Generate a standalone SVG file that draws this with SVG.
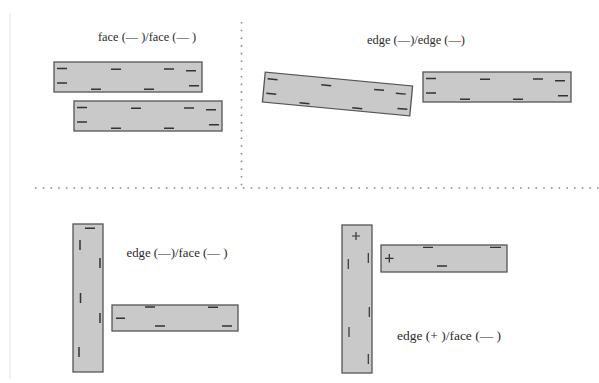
<svg xmlns="http://www.w3.org/2000/svg" xmlns:xlink="http://www.w3.org/1999/xlink" width="599" height="383" viewBox="0 0 599 383">
<style>
.bar{fill:#c9c9c9;stroke:#555;stroke-width:1.3}
.mk{stroke:#333;stroke-width:1.5;fill:none}
.lbl{font-family:"Liberation Serif","Times New Roman",serif;font-size:12.5px;fill:#2a2a2a;text-anchor:middle}
.dot{stroke:#8a8a8a;stroke-width:1.6;stroke-dasharray:1.6 6.1;fill:none}
</style>
<defs>
<g id="bar148">
<rect class="bar" x="0" y="0" width="148" height="30"/>
<path class="mk" d="M3,6.5h10M3,21h10M37,27.3h10M57,7.3h10M90,27.3h10M110,7h10M132,8.7h10M135,23.7h10"/>
</g>
</defs>
<rect width="599" height="383" fill="#fff"/>
<line x1="10" y1="14" x2="10" y2="379" stroke="#ececec" stroke-width="1.5"/>
<g id="connectors">
<line class="dot" x1="241.5" y1="22" x2="241.5" y2="188"/>
<line class="dot" x1="35" y1="188" x2="599" y2="188"/>
</g>
<g id="label-face-face"><text class="lbl" x="147" y="41" textLength="98" lengthAdjust="spacingAndGlyphs">face (— )/face (— )</text></g>
<g id="bar-tl1"><use xlink:href="#bar148" x="54" y="62"/></g>
<g id="bar-tl2"><use xlink:href="#bar148" x="74" y="101"/></g>
<g id="label-edge-edge"><text class="lbl" x="416" y="44" textLength="98" lengthAdjust="spacingAndGlyphs">edge (—)/edge (—)</text></g>
<g id="bar-tr-tilt" transform="translate(337.5,94) rotate(5.4)"><use xlink:href="#bar148" x="-74" y="-15"/></g>
<g id="bar-tr"><use xlink:href="#bar148" x="423" y="72"/></g>
<g id="bar-bl-vert">
<rect class="bar" x="73" y="224" width="30" height="148"/>
<path class="mk" d="M85,228.3h10M80,240v10M100,258v10M80.5,293v10M100,313v10M79,347v10"/>
</g>
<g id="label-edge-face"><text class="lbl" x="177" y="257" textLength="101" lengthAdjust="spacingAndGlyphs">edge (—)/face (— )</text></g>
<g id="bar-bl-horiz">
<rect class="bar" x="112" y="305" width="126" height="26"/>
<path class="mk" d="M145,307h10M208,307.3h10M116,318.3h9M155,326h10M222,326h10"/>
</g>
<g id="bar-br-vert">
<rect class="bar" x="342" y="225" width="30" height="148"/>
<path class="mk" d="M352,236h8M356,232v8M348.3,259v10M368.3,253v10M369.3,307v10M349,327v10M368.3,354v10" style="stroke-width:1.2"/>
</g>
<g id="bar-br-horiz">
<rect class="bar" x="381" y="245" width="126" height="27"/>
<path class="mk" d="M385,258.3h8.5M389.3,254v8.5M423,247.3h10M490,247.3h11M437,266h10" style="stroke-width:1.3"/>
</g>
<g id="label-edge-plus-face"><text class="lbl" x="449" y="340" textLength="104" lengthAdjust="spacingAndGlyphs">edge (+ )/face (— )</text></g>
</svg>
